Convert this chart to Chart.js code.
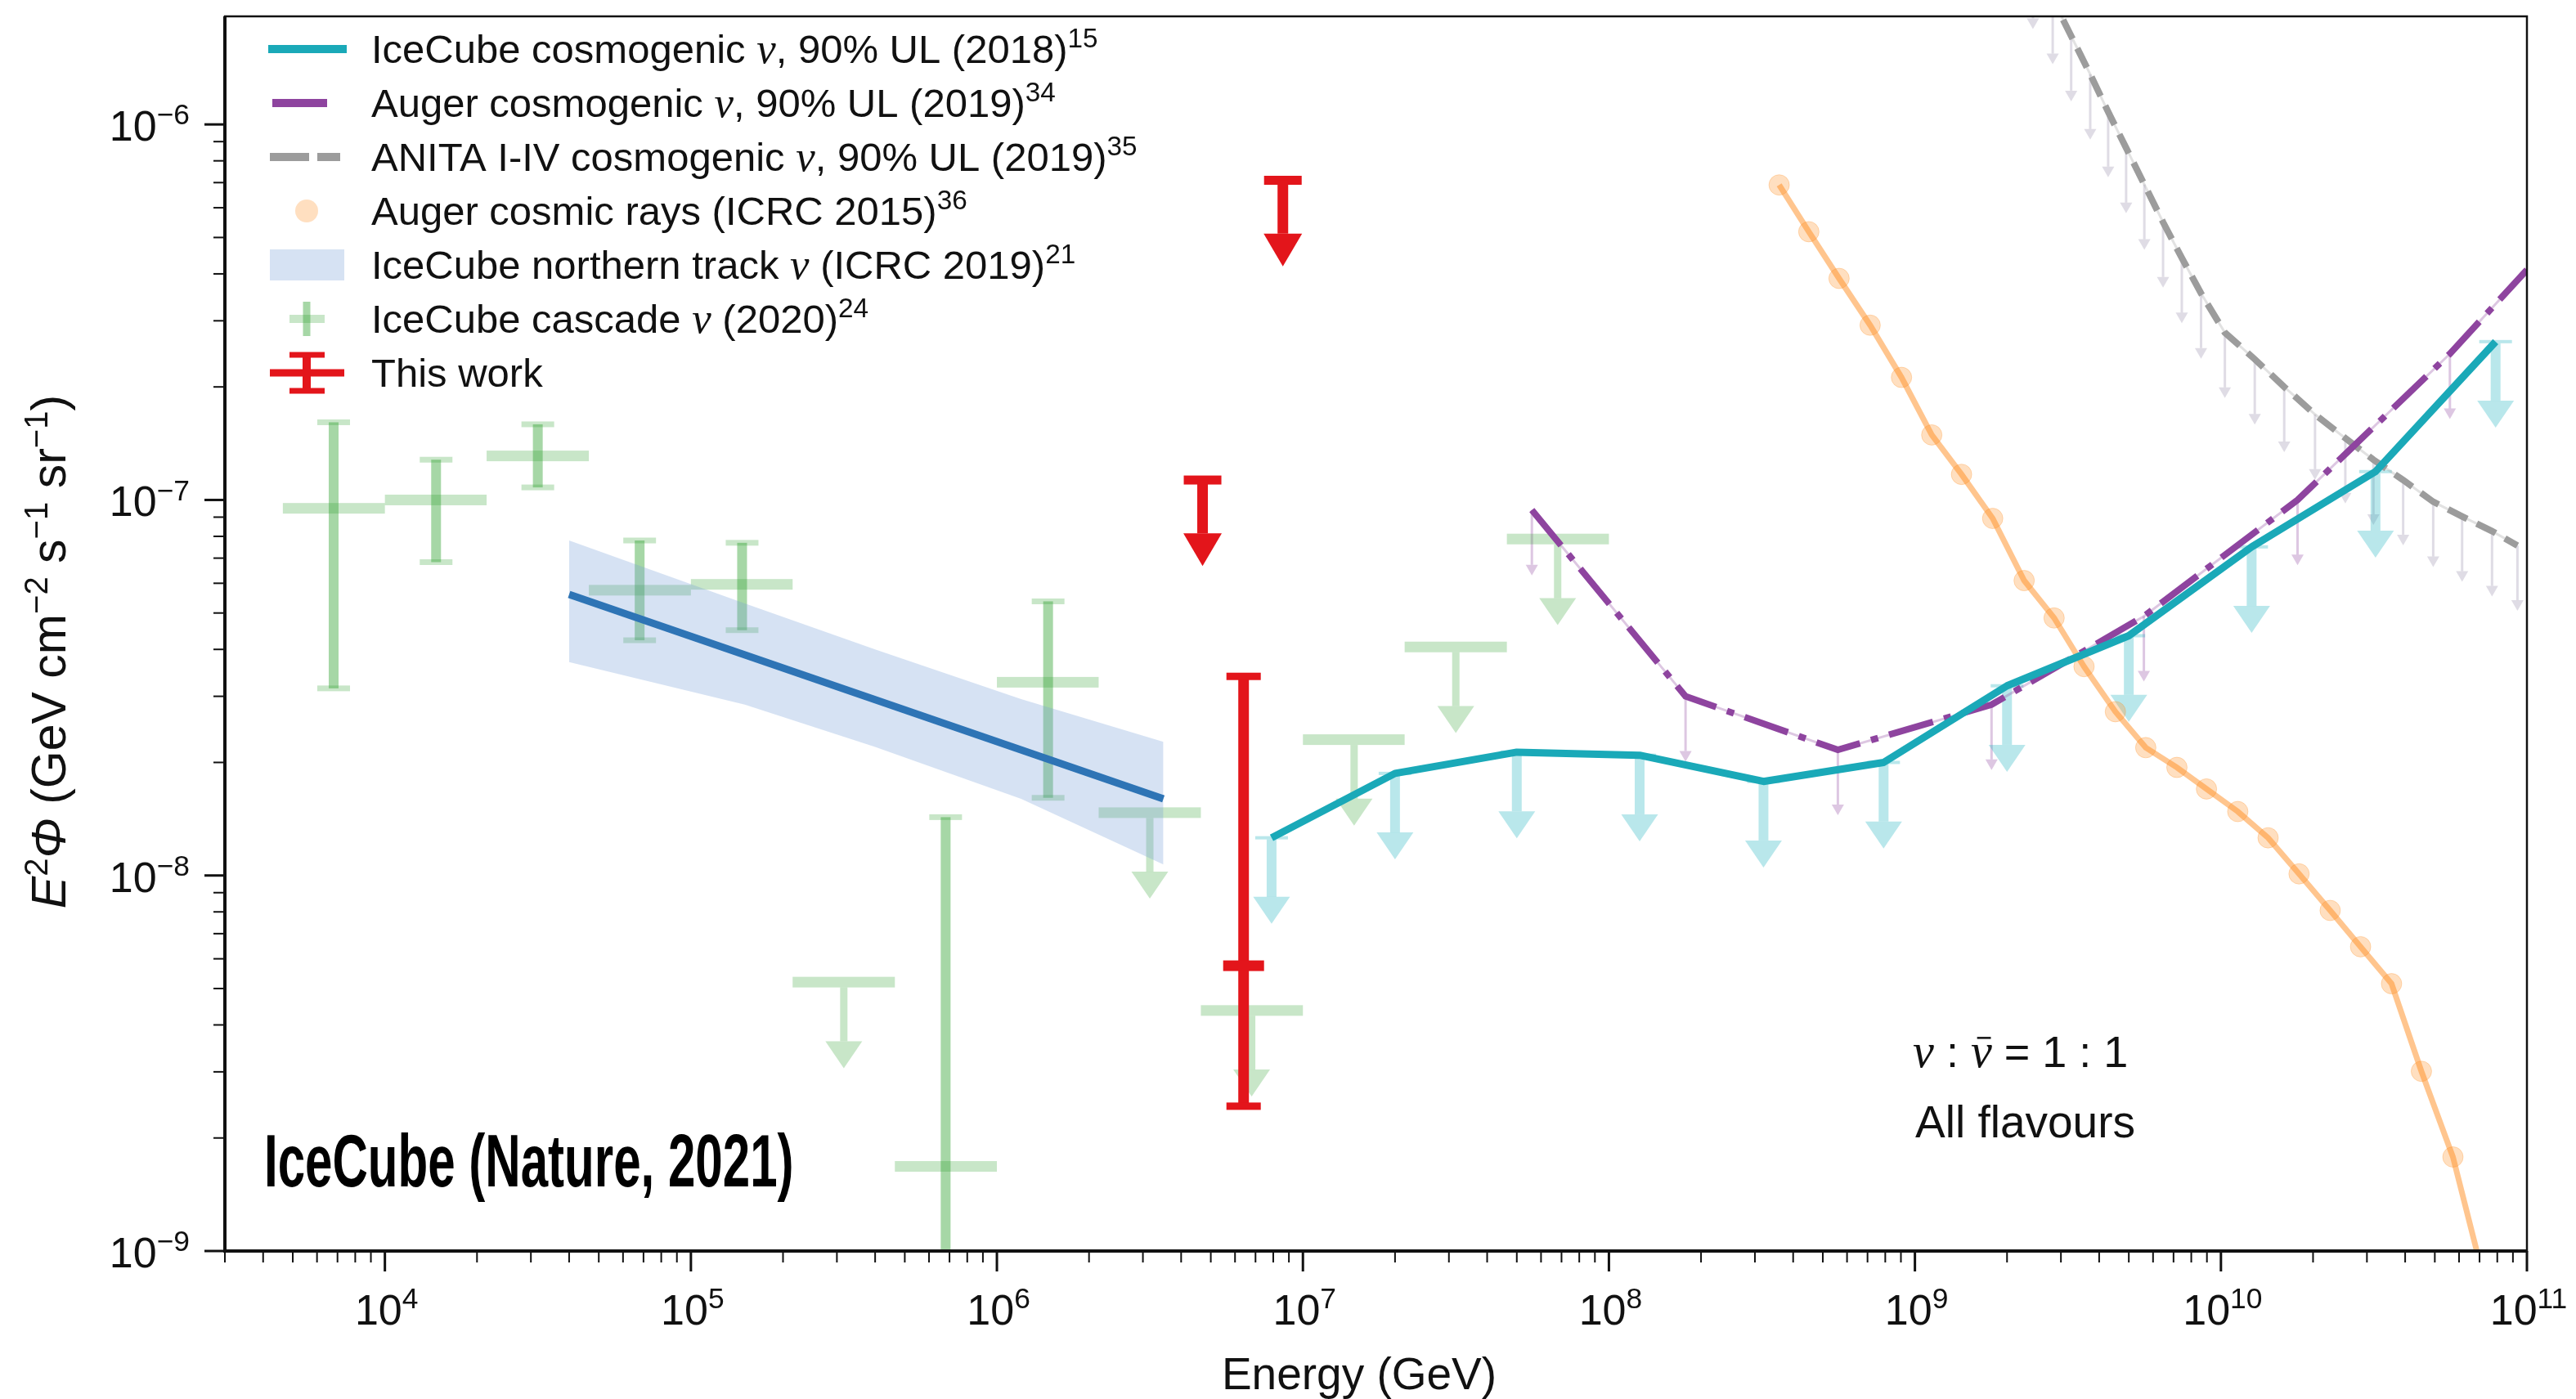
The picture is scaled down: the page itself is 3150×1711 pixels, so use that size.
<!DOCTYPE html>
<html>
<head>
<meta charset="utf-8">
<script src="https://cdn.jsdelivr.net/npm/chart.js@4.4.1/dist/chart.umd.min.js"></script>
<style>
  html, body { margin: 0; padding: 0; background: #fff; }
  canvas { display: block; }
</style>
</head>
<body>
<canvas id="fluxChart" width="3150" height="1711"></canvas>
<script>
// Axis ranges and labelled ticks
const E_MIN = 3e3, E_MAX = 1e11;
const F_MIN = 1e-9, F_MAX = 1.94e-6;
const xMajorTicks = [1e4, 1e5, 1e6, 1e7, 1e8, 1e9, 1e10, 1e11];
const yMajorTicks = [1e-9, 1e-8, 1e-7, 1e-6];

// IceCube cosmogenic nu, 90% UL (2018)
const cosmoE = [7.9e6, 2.0e7, 5.0e7, 1.26e8, 3.2e8, 7.9e8, 2.0e9, 5.0e9, 1.26e10, 3.2e10, 7.9e10];
const cosmoF = [1.26e-8, 1.87e-8, 2.13e-8, 2.09e-8, 1.78e-8, 2.0e-8, 3.2e-8, 4.35e-8, 7.5e-8, 1.19e-7, 2.64e-7];

// Auger cosmogenic nu, 90% UL (2019)
const augerNuE = [5.6e7, 1.78e8, 5.6e8, 1.78e9, 5.6e9, 1.78e10, 5.6e10, 1.0e11];
const augerNuF = [9.4e-8, 3.0e-8, 2.16e-8, 2.85e-8, 4.9e-8, 1.0e-7, 2.45e-7, 4.1e-7];

// ANITA I-IV cosmogenic nu, 90% UL (2019)
const anitaE = [2.43e9, 2.82e9, 3.24e9, 3.74e9, 4.28e9, 4.9e9, 5.62e9, 6.47e9, 7.45e9, 8.61e9,
                1.03e10, 1.29e10, 1.61e10, 2.03e10, 2.55e10, 3.15e10, 3.94e10, 4.94e10, 6.14e10, 7.69e10, 9.31e10];
const anitaF = [2.68e-6, 2.16e-6, 1.72e-6, 1.36e-6, 1.08e-6, 8.66e-7, 6.92e-7, 5.49e-7, 4.41e-7, 3.55e-7,
                2.79e-7, 2.37e-7, 2.0e-7, 1.69e-7, 1.46e-7, 1.28e-7, 1.13e-7, 9.89e-8, 9.04e-8, 8.26e-8, 7.56e-8];

// Auger cosmic rays (ICRC 2015)
const augerCrE = [3.6e8, 4.5e8, 5.65e8, 7.14e8, 9.04e8, 1.135e9, 1.42e9, 1.795e9, 2.275e9, 2.85e9, 3.57e9, 4.52e9,
                  5.68e9, 7.18e9, 8.97e9, 1.135e10, 1.426e10, 1.8e10, 2.275e10, 2.86e10, 3.61e10, 4.52e10, 5.73e10, 7.16e10];
const augerCrF = [6.9e-7, 5.18e-7, 3.89e-7, 2.92e-7, 2.12e-7, 1.49e-7, 1.17e-7, 8.93e-8, 6.1e-8, 4.85e-8, 3.6e-8, 2.73e-8,
                  2.19e-8, 1.94e-8, 1.7e-8, 1.48e-8, 1.26e-8, 1.01e-8, 8.07e-9, 6.46e-9, 5.15e-9, 3.01e-9, 1.78e-9, 8.7e-10];

// IceCube northern tracks (ICRC 2019): best fit and band
const trackE = [4.0e4, 3.5e6];
const trackF = [5.6e-8, 1.6e-8];
const bandE = [4.0e4, 1.5e5, 4.0e5, 1.2e6, 3.5e6];
const bandLo = [3.7e-8, 2.85e-8, 2.2e-8, 1.6e-8, 1.07e-8];
const bandHi = [7.8e-8, 5.3e-8, 4.0e-8, 2.95e-8, 2.27e-8];

// IceCube cascades (2020): measured bins
const cascadeE = [6.8e3, 1.47e4, 3.16e4, 6.8e4, 1.47e5, 6.8e5, 1.47e6];
const cascadeBinLo = [4.64e3, 1.0e4, 2.15e4, 4.64e4, 1.0e5, 4.64e5, 1.0e6];
const cascadeBinHi = [1.0e4, 2.15e4, 4.64e4, 1.0e5, 2.15e5, 1.0e6, 2.15e6];
const cascadeF = [9.5e-8, 1.0e-7, 1.31e-7, 5.75e-8, 5.96e-8, 1.68e-9, 3.27e-8];
const cascadeErrHi = [1.61e-7, 1.28e-7, 1.59e-7, 7.8e-8, 7.69e-8, 1.43e-8, 5.37e-8];
const cascadeErrLo = [3.15e-8, 6.83e-8, 1.08e-7, 4.23e-8, 4.5e-8, 1e-10, 1.61e-8];
// IceCube cascades (2020): upper-limit bins
const cascadeUlE = [3.16e5, 3.16e6, 6.8e6, 1.47e7, 3.16e7, 6.8e7];
const cascadeUlBinLo = [2.15e5, 2.15e6, 4.64e6, 1.0e7, 2.15e7, 4.64e7];
const cascadeUlBinHi = [4.64e5, 4.64e6, 1.0e7, 2.15e7, 4.64e7, 1.0e8];
const cascadeUlF = [5.2e-9, 1.47e-8, 4.37e-9, 2.3e-8, 4.06e-8, 7.87e-8];

// This work
const glashowE = [6.4e6];
const glashowF = [5.75e-9];
const glashowHi = [3.39e-8];
const glashowLo = [2.43e-9];
const thisUlE = [4.7e6, 8.6e6];
const thisUlF = [1.13e-7, 7.1e-7];

// How far the upper-limit arrows reach (fraction of the limit value)
const BIG_DROP = 0.59;
const THIN_DROP = 0.67;

const CYAN = '#1aa9b8', CYAN_SOFT = 'rgba(23,175,190,0.3)';
const PURPLE = '#8e449f', PURPLE_SOFT = 'rgba(142,68,160,0.3)';
const GREY = '#9c9c9c', GREY_SOFT = 'rgba(150,140,170,0.3)';
const ORANGE_LINE = 'rgba(255,140,30,0.5)', ORANGE_FILL = 'rgba(255,140,30,0.28)';
const GREEN_BAR = 'rgba(44,160,44,0.26)', GREEN_ERR = 'rgba(44,160,44,0.42)';
const BAND = 'rgba(120,160,215,0.3)', TRACK = '#2e74b5';
const RED = '#e3151b';

const SANS = '"Liberation Sans", Arial, Helvetica, sans-serif';
const SERIF = '"Liberation Serif", "Times New Roman", serif';

const pts = (xs, ys) => xs.map((x, i) => ({ x, y: ys[i] }));

function minorTicks(majors, lo, hi) {
  const out = [];
  [majors[0] / 10, ...majors].forEach(m => {
    for (let k = 2; k <= 9; k++) {
      const v = m * k;
      if (v >= lo * 0.999 && v <= hi * 1.001) out.push(v);
    }
  });
  return out;
}

// ---- text helpers (superscripts, italic nu) ----
function segFont(sg, size) {
  const s = sg.sup ? size * 0.68 : size;
  if (sg.nu) return `italic ${s * 1.08}px ${SERIF}`;
  return `${sg.it ? 'italic ' : ''}${sg.bold ? 'bold ' : ''}${s}px ${SANS}`;
}
function richWidth(ctx, segs, size) {
  let w = 0;
  segs.forEach(sg => { ctx.font = segFont(sg, size); w += ctx.measureText(sg.t).width; });
  return w;
}
function drawRich(ctx, segs, x, y, size, align) {
  let cx = x;
  if (align === 'center') cx -= richWidth(ctx, segs, size) / 2;
  if (align === 'right') cx -= richWidth(ctx, segs, size);
  ctx.textAlign = 'left';
  ctx.textBaseline = 'alphabetic';
  segs.forEach(sg => {
    ctx.font = segFont(sg, size);
    const w = ctx.measureText(sg.t).width;
    ctx.fillText(sg.t, cx, y - (sg.sup ? size * 0.38 : 0));
    if (sg.bar) {
      ctx.save();
      ctx.strokeStyle = ctx.fillStyle;
      ctx.lineWidth = 2.5;
      ctx.beginPath();
      ctx.moveTo(cx + w * 0.3, y - size * 0.66);
      ctx.lineTo(cx + w * 0.95, y - size * 0.66);
      ctx.stroke();
      ctx.restore();
    }
    cx += w;
  });
}

// ---- mark helpers ----
function arrow(ctx, px, y0, y1, shaftW, headW, headH, color) {
  ctx.fillStyle = color;
  ctx.fillRect(px - shaftW / 2, y0, shaftW, Math.max(0, y1 - headH - y0));
  ctx.beginPath();
  ctx.moveTo(px - headW / 2, y1 - headH);
  ctx.lineTo(px + headW / 2, y1 - headH);
  ctx.lineTo(px, y1);
  ctx.closePath();
  ctx.fill();
}
function hbar(ctx, x0, x1, py, thick, color) {
  ctx.fillStyle = color;
  ctx.fillRect(x0, py - thick / 2, x1 - x0, thick);
}
function vbar(ctx, px, y0, y1, thick, color) {
  ctx.fillStyle = color;
  ctx.fillRect(px - thick / 2, Math.min(y0, y1), thick, Math.abs(y1 - y0));
}

const legendRows = [
  [{ t: 'IceCube cosmogenic ' }, { t: 'ν', nu: 1 }, { t: ', 90% UL (2018)' }, { t: '15', sup: 1 }],
  [{ t: 'Auger cosmogenic ' }, { t: 'ν', nu: 1 }, { t: ', 90% UL (2019)' }, { t: '34', sup: 1 }],
  [{ t: 'ANITA I-IV cosmogenic ' }, { t: 'ν', nu: 1 }, { t: ', 90% UL (2019)' }, { t: '35', sup: 1 }],
  [{ t: 'Auger cosmic rays (ICRC 2015)' }, { t: '36', sup: 1 }],
  [{ t: 'IceCube northern track ' }, { t: 'ν', nu: 1 }, { t: ' (ICRC 2019)' }, { t: '21', sup: 1 }],
  [{ t: 'IceCube cascade ' }, { t: 'ν', nu: 1 }, { t: ' (2020)' }, { t: '24', sup: 1 }],
  [{ t: 'This work' }]
];

const overlay = {
  id: 'overlay',
  beforeDatasetsDraw(chart) {
    const { ctx, chartArea: a, scales: { x, y } } = chart;
    const X = v => x.getPixelForValue(v), Y = v => y.getPixelForValue(v);
    ctx.save();
    ctx.beginPath();
    ctx.rect(a.left, a.top, a.right - a.left, a.bottom - a.top);
    ctx.clip();

    // thin limit arrows under the ANITA and Auger curves
    anitaE.forEach((e, i) => arrow(ctx, X(e), Y(anitaF[i]), Y(anitaF[i] * THIN_DROP), 3, 15, 13, GREY_SOFT));
    augerNuE.slice(0, -1).forEach((e, i) => arrow(ctx, X(e), Y(augerNuF[i]), Y(augerNuF[i] * THIN_DROP), 3, 15, 13, PURPLE_SOFT));

    // cascade bins with error bars
    cascadeE.forEach((e, i) => {
      const px = X(e);
      hbar(ctx, X(cascadeBinLo[i]), X(cascadeBinHi[i]), Y(cascadeF[i]), 13, GREEN_BAR);
      vbar(ctx, px, Y(cascadeErrHi[i]), Y(cascadeErrLo[i]), 12, GREEN_ERR);
      hbar(ctx, px - 20, px + 20, Y(cascadeErrHi[i]), 7, GREEN_BAR);
      hbar(ctx, px - 20, px + 20, Y(cascadeErrLo[i]), 7, GREEN_BAR);
    });
    // cascade upper limits
    cascadeUlE.forEach((e, i) => {
      const py = Y(cascadeUlF[i]);
      hbar(ctx, X(cascadeUlBinLo[i]), X(cascadeUlBinHi[i]), py, 13, GREEN_BAR);
      arrow(ctx, X(e), py + 6.5, Y(cascadeUlF[i] * BIG_DROP), 9, 45, 33, GREEN_BAR);
    });

    // IceCube cosmogenic limit arrows
    cosmoE.forEach((e, i) => {
      const px = X(e), py = Y(cosmoF[i]);
      hbar(ctx, px - 20, px + 20, py, 4, CYAN_SOFT);
      arrow(ctx, px, py + 2, Y(cosmoF[i] * BIG_DROP), 12, 45, 33, CYAN_SOFT);
    });
    ctx.restore();
  },
  afterDatasetsDraw(chart) {
    const { ctx, chartArea: a, scales: { x, y } } = chart;
    const X = v => x.getPixelForValue(v), Y = v => y.getPixelForValue(v);
    ctx.save();
    ctx.beginPath();
    ctx.rect(a.left, a.top, a.right - a.left, a.bottom - a.top);
    ctx.clip();
    glashowE.forEach((e, i) => {
      const px = X(e);
      vbar(ctx, px, Y(glashowHi[i]), Y(glashowLo[i]), 13, RED);
      hbar(ctx, px - 21, px + 21, Y(glashowHi[i]), 9, RED);
      hbar(ctx, px - 21, px + 21, Y(glashowLo[i]), 9, RED);
      hbar(ctx, px - 25, px + 25, Y(glashowF[i]), 13, RED);
    });
    thisUlE.forEach((e, i) => {
      const px = X(e), py = Y(thisUlF[i]);
      hbar(ctx, px - 23, px + 23, py, 11, RED);
      arrow(ctx, px, py, Y(thisUlF[i] * BIG_DROP), 13, 47, 40, RED);
    });
    ctx.restore();
  },
  afterDraw(chart) {
    const { ctx, chartArea: a, scales: { x, y } } = chart;
    const X = v => x.getPixelForValue(v), Y = v => y.getPixelForValue(v);
    ctx.save();

    // frame
    ctx.strokeStyle = '#111';
    ctx.lineWidth = 2.5;
    ctx.strokeRect(a.left, a.top, a.right - a.left, a.bottom - a.top);
    ctx.lineWidth = 4;
    ctx.beginPath();
    ctx.moveTo(a.left, a.top);
    ctx.lineTo(a.left, a.bottom);
    ctx.lineTo(a.right, a.bottom);
    ctx.stroke();

    // ticks
    ctx.fillStyle = '#111';
    xMajorTicks.forEach(v => ctx.fillRect(X(v) - 1.5, a.bottom, 3, 25));
    minorTicks(xMajorTicks, E_MIN, E_MAX).forEach(v => ctx.fillRect(X(v) - 1, a.bottom, 2, 14));
    yMajorTicks.forEach(v => ctx.fillRect(a.left - 25, Y(v) - 1.5, 25, 3));
    minorTicks(yMajorTicks, F_MIN, F_MAX).forEach(v => ctx.fillRect(a.left - 14, Y(v) - 1, 14, 2));

    // tick labels
    xMajorTicks.forEach(v => {
      drawRich(ctx, [{ t: '10' }, { t: String(Math.round(Math.log10(v))), sup: 1 }], X(v) + 2, a.bottom + 90, 52, 'center');
    });
    yMajorTicks.forEach(v => {
      drawRich(ctx, [{ t: '10' }, { t: '−' + Math.round(-Math.log10(v)), sup: 1 }], a.left - 43, Y(v) + 20, 52, 'right');
    });

    // axis titles
    drawRich(ctx, [{ t: 'Energy (GeV)' }], 1662, 1699, 55, 'center');
    ctx.save();
    ctx.translate(80, 797);
    ctx.rotate(-Math.PI / 2);
    drawRich(ctx, [
      { t: 'E', it: 1 }, { t: '2', sup: 1 }, { t: 'Φ', it: 1 }, { t: ' (GeV cm' }, { t: '−2', sup: 1 },
      { t: ' s' }, { t: '−1', sup: 1 }, { t: ' sr' }, { t: '−1', sup: 1 }, { t: ')' }
    ], 0, 0, 59, 'center');
    ctx.restore();

    // legend
    const lx = 454, ly0 = 60, dy = 66;
    legendRows.forEach((segs, i) => {
      ctx.fillStyle = '#111';
      drawRich(ctx, segs, lx, ly0 + dy * i + 17, 49, 'left');
    });
    let r = ly0;
    hbar(ctx, 328, 424, r, 10, CYAN);
    r += dy; hbar(ctx, 333, 400, r, 10, PURPLE);
    r += dy; hbar(ctx, 330, 378, r, 10, GREY); hbar(ctx, 388, 416, r, 10, GREY);
    r += dy;
    ctx.fillStyle = ORANGE_FILL;
    ctx.beginPath(); ctx.arc(375, r, 14, 0, Math.PI * 2); ctx.fill();
    r += dy; ctx.fillStyle = BAND; ctx.fillRect(330, r - 19, 91, 38);
    r += dy; hbar(ctx, 354, 397, r, 10, GREEN_BAR); vbar(ctx, 375, r - 21, r + 21, 9, GREEN_ERR);
    r += dy;
    hbar(ctx, 330, 421, r, 9, RED);
    vbar(ctx, 375, r - 23, r + 23, 10, RED);
    hbar(ctx, 354, 397, r - 22, 7, RED);
    hbar(ctx, 354, 397, r + 22, 7, RED);

    // annotations
    ctx.fillStyle = '#000';
    ctx.save();
    ctx.translate(323, 1451);
    ctx.scale(0.66, 1);
    ctx.font = `bold 91px ${SANS}`;
    ctx.textAlign = 'left';
    ctx.fillText('IceCube (Nature, 2021)', 0, 0);
    ctx.restore();

    ctx.fillStyle = '#111';
    drawRich(ctx, [{ t: 'ν', nu: 1 }, { t: ' : ' }, { t: 'ν', nu: 1, bar: 1 }, { t: ' = 1 : 1' }], 2339, 1305, 54, 'left');
    drawRich(ctx, [{ t: 'All flavours' }], 2342, 1391, 55, 'left');

    ctx.restore();
  }
};

const lineBase = { pointRadius: 0, tension: 0, clip: 0, fill: false };

new Chart(document.getElementById('fluxChart'), {
  type: 'line',
  data: {
    datasets: [
      { ...lineBase, label: 'IceCube cosmogenic', data: pts(cosmoE, cosmoF), borderColor: CYAN, borderWidth: 9, borderJoinStyle: 'round', order: 1 },
      { ...lineBase, label: 'Auger cosmogenic', data: pts(augerNuE, augerNuF), borderColor: PURPLE, borderWidth: 8, borderDash: [56, 14, 9, 14], order: 2 },
      { ...lineBase, label: 'Auger cosmogenic thin', data: pts(augerNuE, augerNuF), borderColor: PURPLE_SOFT, borderWidth: 3, order: 3 },
      { ...lineBase, label: 'ANITA', data: pts(anitaE, anitaF), borderColor: GREY, borderWidth: 8, borderDash: [26, 13], order: 4 },
      { ...lineBase, label: 'ANITA thin', data: pts(anitaE, anitaF), borderColor: 'rgba(160,160,160,0.3)', borderWidth: 3, order: 5 },
      { ...lineBase, label: 'Auger cosmic rays', data: pts(augerCrE, augerCrF), borderColor: ORANGE_LINE, borderWidth: 7,
        pointRadius: 12.5, pointBackgroundColor: ORANGE_FILL, pointBorderColor: ORANGE_FILL, pointBorderWidth: 1, order: 6 },
      { ...lineBase, label: 'Northern tracks', data: pts(trackE, trackF), borderColor: TRACK, borderWidth: 9, order: 7 },
      { ...lineBase, label: 'Northern tracks low', data: pts(bandE, bandLo), borderWidth: 0, borderColor: 'rgba(0,0,0,0)', order: 9 },
      { ...lineBase, label: 'Northern tracks high', data: pts(bandE, bandHi), borderWidth: 0, borderColor: 'rgba(0,0,0,0)',
        fill: '-1', backgroundColor: BAND, order: 9 }
    ]
  },
  options: {
    responsive: false,
    devicePixelRatio: 1,
    animation: false,
    layout: { padding: { left: 275, right: 60, top: 20, bottom: 181 } },
    plugins: { legend: { display: false }, tooltip: { enabled: false } },
    scales: {
      x: { type: 'logarithmic', min: E_MIN, max: E_MAX, display: false },
      y: { type: 'logarithmic', min: F_MIN, max: F_MAX, display: false }
    }
  },
  plugins: [overlay]
});
</script>
</body>
</html>
